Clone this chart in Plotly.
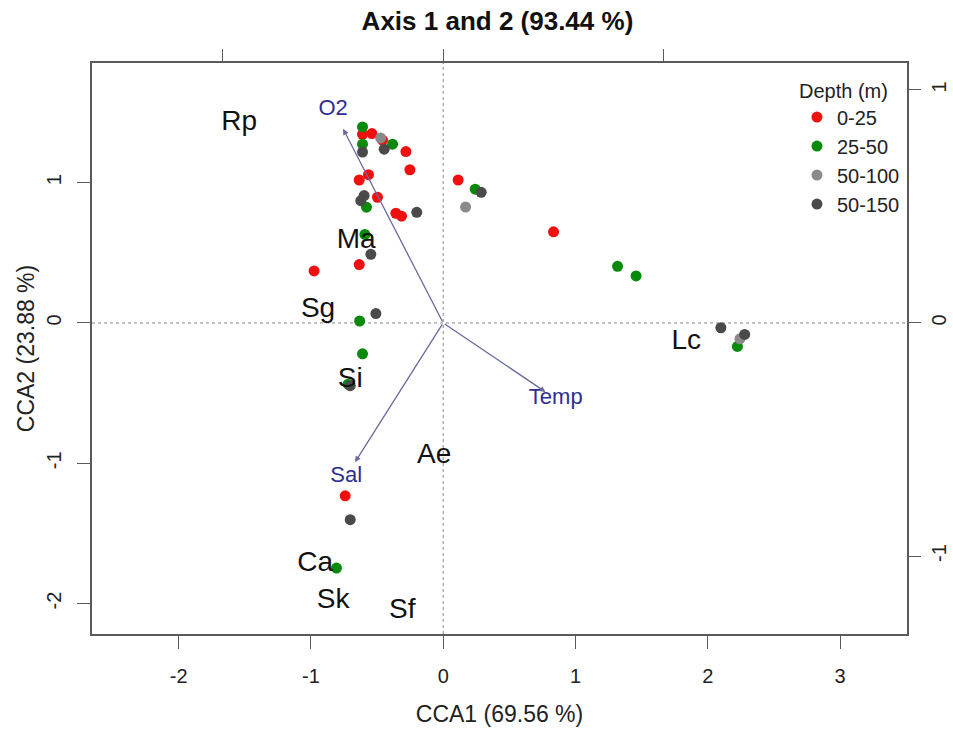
import plotly.graph_objects as go

# ---- site scores (CCA1, CCA2) grouped by depth class ----
depth_classes = ["0-25", "25-50", "50-100", "50-150"]
depth_colors = ["#F01010", "#0A8A0A", "#8A8A8A", "#4A4A4A"]

x_0_25 = [-0.539, -0.610, -0.459, -0.282, -0.252, -0.635, -0.565, 0.113,
          -0.497, -0.358, -0.315, 0.834, -0.976, -0.635, -0.741]
y_0_25 = [1.350, 1.345, 1.303, 1.222, 1.092, 1.019, 1.057, 1.019,
          0.896, 0.782, 0.761, 0.650, 0.371, 0.416, -1.232]

x_25_50 = [-0.610, -0.383, -0.610, 0.242, -0.580, -0.592, 1.318, 1.458,
           2.224, -0.632, -0.610, -0.719, -0.807]
y_25_50 = [1.397, 1.274, 1.274, 0.954, 0.825, 0.631, 0.404, 0.335,
           -0.167, 0.014, -0.220, -0.436, -1.747]

x_50_100 = [-0.473, 0.169, 2.243]
y_50_100 = [1.319, 0.826, -0.113]

x_50_150 = [-0.446, -0.610, 0.287, -0.598, -0.623, -0.200, -0.547, -0.509,
            2.099, 2.279, -0.703, -0.703]
y_50_150 = [1.239, 1.218, 0.931, 0.908, 0.872, 0.789, 0.489, 0.067,
            -0.034, -0.082, -0.447, -1.402]

# ---- species scores ----
species = ["Rp", "Ma", "Sg", "Si", "Ae", "Ca", "Sk", "Sf", "Lc"]
species_x = [-1.543, -0.658, -0.946, -0.703, -0.068, -0.968, -0.832, -0.310, 1.838]
species_y = [1.426, 0.582, 0.092, -0.404, -0.950, -1.716, -1.979, -2.050, -0.135]

# ---- environmental vectors (biplot scale, top/right axes) ----
env_vars = ["O2", "Temp", "Sal"]
env_x = [-0.454, 0.464, -0.400]
env_y = [0.833, -0.296, -0.597]

# axis ticks (plain hyphen for negatives)
main_ticks_x = [-2, -1, 0, 1, 2, 3]
main_ticks_y = [-2, -1, 0, 1]
biplot_ticks = [-1, 0, 1]


def tick_text(vals):
    return [str(v) for v in vals]


FONT = "Liberation Sans, Arial, sans-serif"
AXIS_COL = "#5a5a5a"
ARROW_COL = "#6a6aa0"
ARROW_TXT = "#2e2e90"

x_range = [-2.655, 3.506]
y_range = [-2.217, 1.853]
bx_scale = 0.600
by_scale = 0.602

fig = go.Figure()

site_sets = [(x_0_25, y_0_25), (x_25_50, y_25_50),
             (x_50_100, y_50_100), (x_50_150, y_50_150)]
for name, col, (xs, ys) in zip(depth_classes, depth_colors, site_sets):
    fig.add_trace(go.Scatter(
        x=xs, y=ys, mode="markers", name=name, legendgroup=name,
        marker=dict(size=11, color=col, line=dict(width=0)),
    ))

fig.add_trace(go.Scatter(
    x=species_x, y=species_y, mode="text", text=species,
    textposition="middle center",
    textfont=dict(size=28, color="#111111", family=FONT),
    showlegend=False, hoverinfo="skip",
))

# vector labels placed just beyond the arrow tips
lab_f = 1.1
fig.add_trace(go.Scatter(
    x=[v * lab_f for v in env_x], y=[v * lab_f for v in env_y],
    xaxis="x2", yaxis="y2", mode="text", text=env_vars,
    textposition="middle center",
    textfont=dict(size=22, color=ARROW_TXT, family=FONT),
    showlegend=False, hoverinfo="skip",
))

annotations = []
for ex, ey in zip(env_x, env_y):
    annotations.append(dict(
        x=ex, y=ey, ax=0, ay=0, xref="x2", yref="y2", axref="x2", ayref="y2",
        text="", showarrow=True, arrowhead=2, arrowsize=0.9, arrowwidth=1.3,
        arrowcolor=ARROW_COL, standoff=0, startstandoff=0,
    ))

shapes = [
    dict(type="line", xref="x", yref="paper", x0=0, x1=0, y0=0, y1=1,
         line=dict(color="#888888", width=1, dash="dot"), layer="below"),
    dict(type="line", xref="paper", yref="y", x0=0, x1=1, y0=0, y1=0,
         line=dict(color="#888888", width=1, dash="dot"), layer="below"),
]

tick_font = dict(size=20, color="#222222", family=FONT)

fig.update_layout(
    width=953, height=730,
    margin=dict(l=92, r=46, t=63, b=96),
    paper_bgcolor="white", plot_bgcolor="white",
    font=dict(family=FONT, color="#222222"),
    title=dict(text="<b>Axis 1 and 2 (93.44 %)</b>", x=0.522, xanchor="center",
               y=0.972, yanchor="middle", font=dict(size=26, color="#111111")),
    xaxis=dict(range=x_range, tickvals=main_ticks_x, ticktext=tick_text(main_ticks_x),
               ticks="outside", ticklen=13, automargin=False,
               tickcolor=AXIS_COL, tickwidth=1.2, showgrid=False, zeroline=False,
               showline=True, linecolor=AXIS_COL, linewidth=1.5, mirror=True,
               tickfont=tick_font, ticklabelstandoff=10,
               title=dict(text="CCA1 (69.56 %)", font=dict(size=23), standoff=20)),
    yaxis=dict(range=y_range, tickvals=main_ticks_y, ticktext=tick_text(main_ticks_y),
               ticks="outside", ticklen=13, automargin=False,
               tickcolor=AXIS_COL, tickwidth=1.2, showgrid=False, zeroline=False,
               showline=True, linecolor=AXIS_COL, linewidth=1.5, mirror=True,
               tickfont=tick_font, tickangle=-90, ticklabelstandoff=8,
               title=dict(text="CCA2 (23.88 %)", font=dict(size=23), standoff=2)),
    xaxis2=dict(range=[x_range[0] * bx_scale, x_range[1] * bx_scale],
                overlaying="x", side="top", anchor="y", automargin=False,
                tickvals=biplot_ticks, ticks="outside", ticklen=13,
                tickcolor=AXIS_COL, tickwidth=1.2, showticklabels=False,
                showgrid=False, zeroline=False, showline=False),
    yaxis2=dict(range=[y_range[0] * by_scale, y_range[1] * by_scale],
                overlaying="y", side="right", anchor="x", automargin=False,
                tickvals=biplot_ticks, ticktext=tick_text(biplot_ticks),
                ticks="outside", ticklen=13,
                tickcolor=AXIS_COL, tickwidth=1.2, tickfont=tick_font,
                tickangle=-90, ticklabelstandoff=1,
                showgrid=False, zeroline=False, showline=False),
    legend=dict(x=0.9975, xanchor="right", y=0.985, yanchor="top",
                bgcolor="rgba(0,0,0,0)", font=dict(size=20, color="#222222"),
                title=dict(text="Depth (m)", font=dict(size=20)),
                tracegroupgap=0, itemwidth=30),
    annotations=annotations,
    shapes=shapes,
    showlegend=True,
)

fig.write_html("out.html")
